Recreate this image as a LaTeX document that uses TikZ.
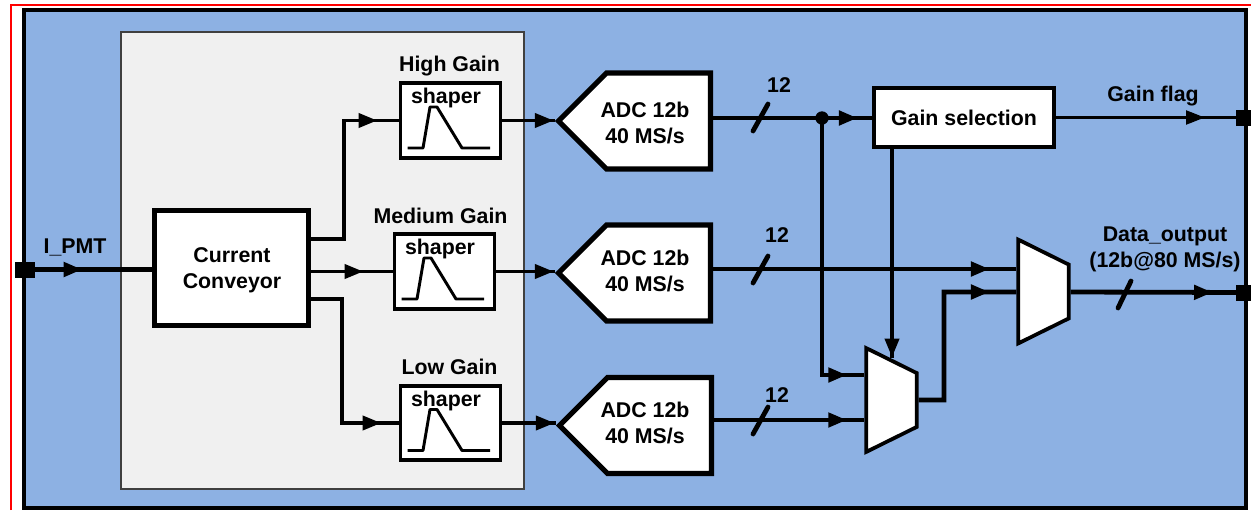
\documentclass[tikz,border=0pt]{standalone}
\usepackage{fontspec}
\setmainfont{Liberation Sans}
\usetikzlibrary{shapes.geometric, shapes.symbols, arrows.meta, positioning, calc, decorations.markings}
\definecolor{panelblue}{HTML}{8DB1E3}
\definecolor{corebox}{HTML}{F0F0F0}
\tikzset{
  every node/.style={font=\fontsize{16pt}{19.5pt}\selectfont\bfseries},
  block/.style={rectangle, draw=black, fill=white, line width=3.6pt, align=center, inner sep=0pt},
  shaperbox/.style={rectangle, draw=black, fill=white, line width=2.8pt, minimum width=75pt, minimum height=56pt, inner sep=0pt},
  adc/.style={signal, signal to=west, signal pointer angle=90, draw=black, fill=white, line width=3.8pt, inner sep=0pt, text width=78pt, minimum height=72pt},
  mux/.style={trapezium, trapezium stretches=true, trapezium left angle=65, trapezium right angle=65, rotate=-90, draw=black, fill=white, line width=2.8pt, minimum width=78pt, minimum height=38pt, inner sep=0pt},
  pin/.style={rectangle, fill=black, minimum width=15pt, minimum height=12pt, inner sep=0pt},
  txt/.style={inner sep=0pt, align=center},
  wavy/.style={line width=2.2pt, line join=round},
  tipat/.style={postaction=decorate, decoration={markings, mark=at position #1 with {\arrow{Triangle[length=14pt,width=10.5pt]}}}},
  bus/.style={line width=3.6pt},
  wire/.style={line width=2.8pt},
  thinwire/.style={line width=1.7pt},
  slash/.style={line width=3.6pt, line cap=round},
}
\begin{document}
\begin{tikzpicture}[x=0.75pt,y=-0.75pt]
\useasboundingbox (0,0) rectangle (1251,510);
\fill[white] (0,0) rectangle (1251,510);
\draw[red, line width=0.9pt] (11,510) -- (11,5) -- (1251,5);
\draw[black, fill=panelblue, line width=3.6pt] (24,10) rectangle (1246,508);
\draw[black!75, fill=corebox, line width=1.3pt] (121,32) rectangle (524,489);

\node[block, minimum width=115.5pt, minimum height=86pt] (conv) at (231.5,268) {};
\node[txt] (convtxt) at (232,270) {Current\\Conveyor};
\node[block, line width=2.6pt, minimum width=135pt, minimum height=44pt] (gain) at (964,117.5) {Gain selection};

\foreach \nm/\cx/\cy/\ttl/\dx/\gap in {hi/450.5/120.5/High Gain/-1/3.8pt, mid/444.5/271.5/Medium Gain/-4/6pt, lo/450.5/423/Low Gain/-1/6.8pt}{
  \node[shaperbox] (\nm) at (\cx,\cy) {};
  \node[txt] (\nm txt) at (\cx-4.5,\cy-22.5) {shaper};
  \node[txt, above=\gap of \nm, xshift=\dx*0.75pt] (\nm ttl) {\ttl};
  \draw[wavy] (\cx-43,\cy+27.5) -- (\cx-27.5,\cy+27.5) -- (\cx-20.5,\cy-13.5) -- (\cx-13.5,\cy-13.5) -- (\cx+11.5,\cy+27.5) -- (\cx+39.5,\cy+27.5);
}

\node[adc] (adchi) at (658.5,121) {};
\node[adc] (adcmid) at (658.5,273) {};
\node[adc] (adclo) at (659.5,425.5) {};
\node[txt] (adchitxt) at (645,123) {ADC 12b\\40 MS/s};
\node[txt] (adcmidtxt) at (645,271) {ADC 12b\\40 MS/s};
\node[txt] (adclotxt) at (645,422.5) {ADC 12b\\40 MS/s};

\node[mux] (muxa) at (891.5,400) {\phantom{\rule{8pt}{8pt}}};
\node[mux] (muxb) at (1043.5,291.5) {\phantom{\rule{8pt}{8pt}}};

\node[pin] (inpin) at (25,269.5) {};
\node[pin] (flagpin) at (1246,117.5) {};
\node[pin] (outpin) at (1246,292.5) {};
\node[txt, above=3.8pt of inpin, xshift=37.5pt] (inlbl) {I\_PMT};
\node[txt] (flaglbl) at (1153,96) {Gain flag};
\node[txt] (outlbl) at (1165,249) {Data\_output\\(12b@80 MS/s)};
\node[txt] (twa) at (779,85) {12};
\node[txt] (twb) at (777,235) {12};
\node[txt] (twc) at (777,395) {12};

\coordinate (split) at (344,239);
\coordinate (lowsplit) at (342,299);
\coordinate (tap) at (822,118);
\coordinate (selin) at (892,358);
\coordinate (bend) at (944,400);

\draw[bus, tipat=43pt] (inpin.center) -- (conv.west |- inpin.center);
\draw[wire, tipat=-16pt] (conv.east |- split) -- (split) |- (hi.west);
\draw[wire, tipat=-22pt] (conv.east |- mid.west) -- (mid.west);
\draw[wire, tipat=-13pt] (conv.east |- lowsplit) -- (lowsplit) |- (lo.west);
\draw[wire, tipat=-1pt] (hi.east) -- (hi.east -| adchi.west);
\draw[wire, tipat=-1pt] (mid.east) -- (mid.east -| adcmid.west);
\draw[wire, tipat=-1pt] (lo.east) -- (lo.east -| adclo.west);

\draw[bus, tipat=-11pt] (adchi.east |- tap) -- (tap) -- (gain.west |- tap);
\fill (tap) circle (5pt);
\draw[bus, tipat=-13pt] (tap) |- (muxa.south |- 0,375);
\draw[wire, line width=3.4pt, tipat=-20pt] (adcmid.east |- 0,269) -- (muxb.south |- 0,269);
\draw[wire, line width=3.4pt, tipat=-13pt] (adclo.east |- 0,420) -- (muxa.south |- 0,420);
\draw[wire, tipat=-0.5pt] (selin |- gain.south) -- (selin);
\draw[thinwire, tipat=-31pt] (gain.east |- flagpin) -- (flagpin.center);
\draw[bus, tipat=-20pt] (muxa.north) -- (bend) |- (muxb.south |- 0,292);
\draw[bus, tipat=-25pt] (muxb.north |- 0,292) -- (outpin.center);

\draw[slash] (753,131) -- (768,104);
\draw[slash] (753,283) -- (768,256);
\draw[slash] (753,434) -- (768,407);
\draw[slash] (1118,308) -- (1131,281);
\end{tikzpicture}
\end{document}
